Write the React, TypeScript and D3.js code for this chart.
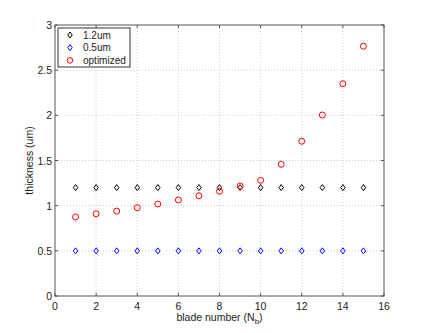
import React from "react";
import * as d3 from "d3";

const bladeNumbers = [1, 2, 3, 4, 5, 6, 7, 8, 9, 10, 11, 12, 13, 14, 15];
const thick12 = [1.2, 1.2, 1.2, 1.2, 1.2, 1.2, 1.2, 1.2, 1.2, 1.2, 1.2, 1.2, 1.2, 1.2, 1.2];
const thick05 = [0.5, 0.5, 0.5, 0.5, 0.5, 0.5, 0.5, 0.5, 0.5, 0.5, 0.5, 0.5, 0.5, 0.5, 0.5];
const thickOpt = [0.875, 0.91, 0.94, 0.978, 1.018, 1.063, 1.11, 1.16, 1.218, 1.28, 1.458, 1.713, 2.004, 2.35, 2.765];
const xTicks = [0, 2, 4, 6, 8, 10, 12, 14, 16];
const yTicks = [0, 0.5, 1, 1.5, 2, 2.5, 3];
const yTickLabels = ["0", "0.5", "1", "1.5", "2", "2.5", "3"];
const legendLabels = ["1.2um", "0.5um", "optimized"];

const W = 425, H = 333;
const L = 55, R = 384, T = 25, B = 296;
const font = "'Liberation Sans', Arial, sans-serif";

function Diamond({ x, y, color }: { x: number; y: number; color: string }) {
  const s = 3;
  return <path d={`M${x},${y - s}L${x + s * 0.75},${y}L${x},${y + s}L${x - s * 0.75},${y}Z`} fill="none" stroke={color} strokeWidth={1} />;
}

export default function App() {
  const x = d3.scaleLinear().domain([0, 16]).range([L, R]);
  const y = d3.scaleLinear().domain([0, 3]).range([B, T]);
  const axisColor = "#555";
  return (
    <svg width={W} height={H} style={{ position: "absolute", left: 0, top: 0, background: "#fff" }} fontFamily={font}>
      <rect x={0} y={0} width={W} height={H} fill="#fff" />
      {/* grid */}
      {xTicks.slice(1, -1).map((t) => (
        <line key={"gx" + t} x1={x(t)} x2={x(t)} y1={T} y2={B} stroke="#c0c0c0" strokeWidth={0.8} strokeDasharray="1,2" />
      ))}
      {yTicks.slice(1, -1).map((t) => (
        <line key={"gy" + t} x1={L} x2={R} y1={y(t)} y2={y(t)} stroke="#c0c0c0" strokeWidth={0.8} strokeDasharray="1,2" />
      ))}
      {/* axes box */}
      <rect x={L} y={T} width={R - L} height={B - T} fill="none" stroke={axisColor} strokeWidth={1} />
      {xTicks.map((t) => (
        <g key={"tx" + t}>
          <line x1={x(t)} x2={x(t)} y1={B} y2={B - 3} stroke={axisColor} />
          <line x1={x(t)} x2={x(t)} y1={T} y2={T + 3} stroke={axisColor} />
          <text x={x(t)} y={B + 14} textAnchor="middle" fontSize={10.5} fill="#222">{t}</text>
        </g>
      ))}
      {yTicks.map((t, i) => (
        <g key={"ty" + t}>
          <line x1={L} x2={L + 3} y1={y(t)} y2={y(t)} stroke={axisColor} />
          <line x1={R} x2={R - 3} y1={y(t)} y2={y(t)} stroke={axisColor} />
          <text x={L - 3} y={y(t) + 4} textAnchor="end" fontSize={10.5} fill="#222">{yTickLabels[i]}</text>
        </g>
      ))}
      {/* labels */}
      <text x={(L + R) / 2} y={321} textAnchor="middle" fontSize={10.5} fill="#222">
        blade number (N<tspan fontSize={8} dy={3}>b</tspan><tspan dy={-3}>)</tspan>
      </text>
      <text transform={`translate(33,${(T + B) / 2}) rotate(-90)`} textAnchor="middle" fontSize={10.5} fill="#222">thickness (um)</text>
      {/* data */}
      {bladeNumbers.map((b, i) => (
        <Diamond key={"k" + b} x={x(b)} y={y(thick12[i])} color="#000" />
      ))}
      {bladeNumbers.map((b, i) => (
        <Diamond key={"b" + b} x={x(b)} y={y(thick05[i])} color="#0000ff" />
      ))}
      {bladeNumbers.map((b, i) => (
        <circle key={"o" + b} cx={x(b)} cy={y(thickOpt[i])} r={3} fill="none" stroke="#ff0000" strokeWidth={1} />
      ))}
      {/* legend */}
      <rect x={58} y={28} width={72} height={39} fill="#fff" stroke="#333" strokeWidth={1} />
      {legendLabels.map((lab, i) => {
        const ly = 35 + i * 12.7;
        return (
          <g key={lab}>
            {i < 2 ? (
              <Diamond x={70} y={ly} color={i === 0 ? "#000" : "#0000ff"} />
            ) : (
              <circle cx={70} cy={ly} r={2.8} fill="none" stroke="#ff0000" />
            )}
            <text x={83} y={ly + 3.5} fontSize={10} fill="#222">{lab}</text>
          </g>
        );
      })}
    </svg>
  );
}
